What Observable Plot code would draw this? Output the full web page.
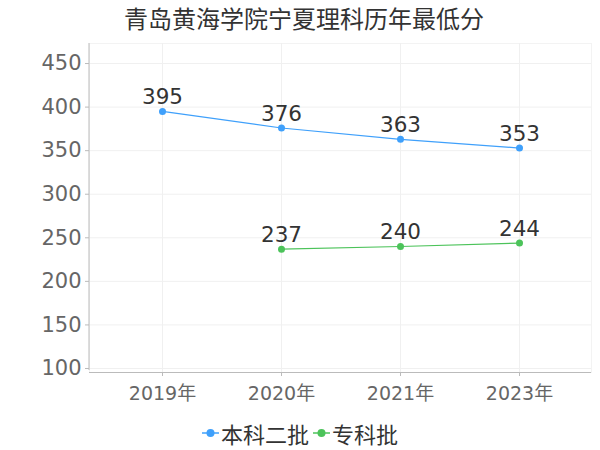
<!DOCTYPE html>
<html><head><meta charset="utf-8">
<script src="https://cdn.jsdelivr.net/npm/d3@7"></script>
<script src="https://cdn.jsdelivr.net/npm/@observablehq/plot@0.6"></script>
<style>
body{margin:0;background:#fff;font-family:"DejaVu Sans","Noto Sans CJK SC",sans-serif;}
#title{height:36px;line-height:36px;text-align:center;font-size:24px;color:#333;padding-left:8px;font-family:"Noto Sans CJK SC","DejaVu Sans",sans-serif;}
#legend{height:34px;display:flex;justify-content:center;align-items:center;font-size:22px;color:#333;font-family:"Noto Sans CJK SC",sans-serif;}
#legend .item{display:flex;align-items:center;margin:0 2px;}
#legend svg{margin-right:2px;}
</style></head>
<body>
<div id="title">青岛黄海学院宁夏理科历年最低分</div>
<div id="chart"></div>
<div id="legend"></div>
<script>
const years = ["2019年","2020年","2021年","2023年"];
const seriesNames = ["本科二批","专科批"];
const benke = [395,376,363,353];
const zhuanke = [null,237,240,244];
const colors = ["#3fa0fb","#4cc35a"];
const yTicks = [100,150,200,250,300,350,400,450];

const rows = [];
[benke, zhuanke].forEach((vals, si) => {
  vals.forEach((v, i) => { if (v != null) rows.push({year: years[i], value: v, series: seriesNames[si]}); });
});

const plot = Plot.plot({
  width: 600,
  height: 380,
  marginTop: 7,
  marginBottom: 44,
  marginLeft: 89,
  marginRight: 9,
  style: {fontFamily: '"DejaVu Sans","Noto Sans CJK SC",sans-serif', background: "#fff"},
  x: {type: "point", domain: years, padding: 0.592, label: null},
  y: {domain: [95.4, 473], label: null},
  color: {domain: seriesNames, range: colors},
  marks: [
    Plot.frame({stroke: "#f3f3f3"}),
    Plot.gridY(yTicks, {stroke: "#f0f0f0", strokeOpacity: 1}),
    Plot.gridX(years, {stroke: "#f0f0f0", strokeOpacity: 1}),
    Plot.ruleY([95.4], {stroke: "#bbb"}),
    Plot.axisY(yTicks, {tickSize: 4, tickPadding: 4, fontSize: 21, stroke: "#bbb", fill: "#666", label: null}),
    Plot.axisX(years, {tickSize: 4, tickPadding: 10, fontSize: 19, stroke: "#bbb", fill: "#666", label: null}),
    Plot.line(rows, {x: "year", y: "value", z: "series", stroke: "series", strokeWidth: 1.2}),
    Plot.dot(rows, {x: "year", y: "value", fill: "series", r: 3.5}),
    Plot.text(rows, {x: "year", y: "value", text: d => String(d.value), dy: -14, fontSize: 21.5, fill: "#333"})
  ]
});
const svg = d3.select(plot);
svg.append("line").attr("x1", 89).attr("x2", 89).attr("y1", 7).attr("y2", 334).attr("stroke", "#bbb");
document.getElementById("chart").appendChild(plot);

const legend = document.getElementById("legend");
seriesNames.forEach((n, i) => {
  const it = document.createElement("div");
  it.className = "item";
  it.innerHTML = `<svg width="17" height="10"><line x1="0" x2="17" y1="5" y2="5" stroke="${colors[i]}" stroke-width="1.5"/><circle cx="8.5" cy="5" r="4" fill="${colors[i]}"/></svg><span>${n}</span>`;
  legend.appendChild(it);
});
</script>
</body></html>
